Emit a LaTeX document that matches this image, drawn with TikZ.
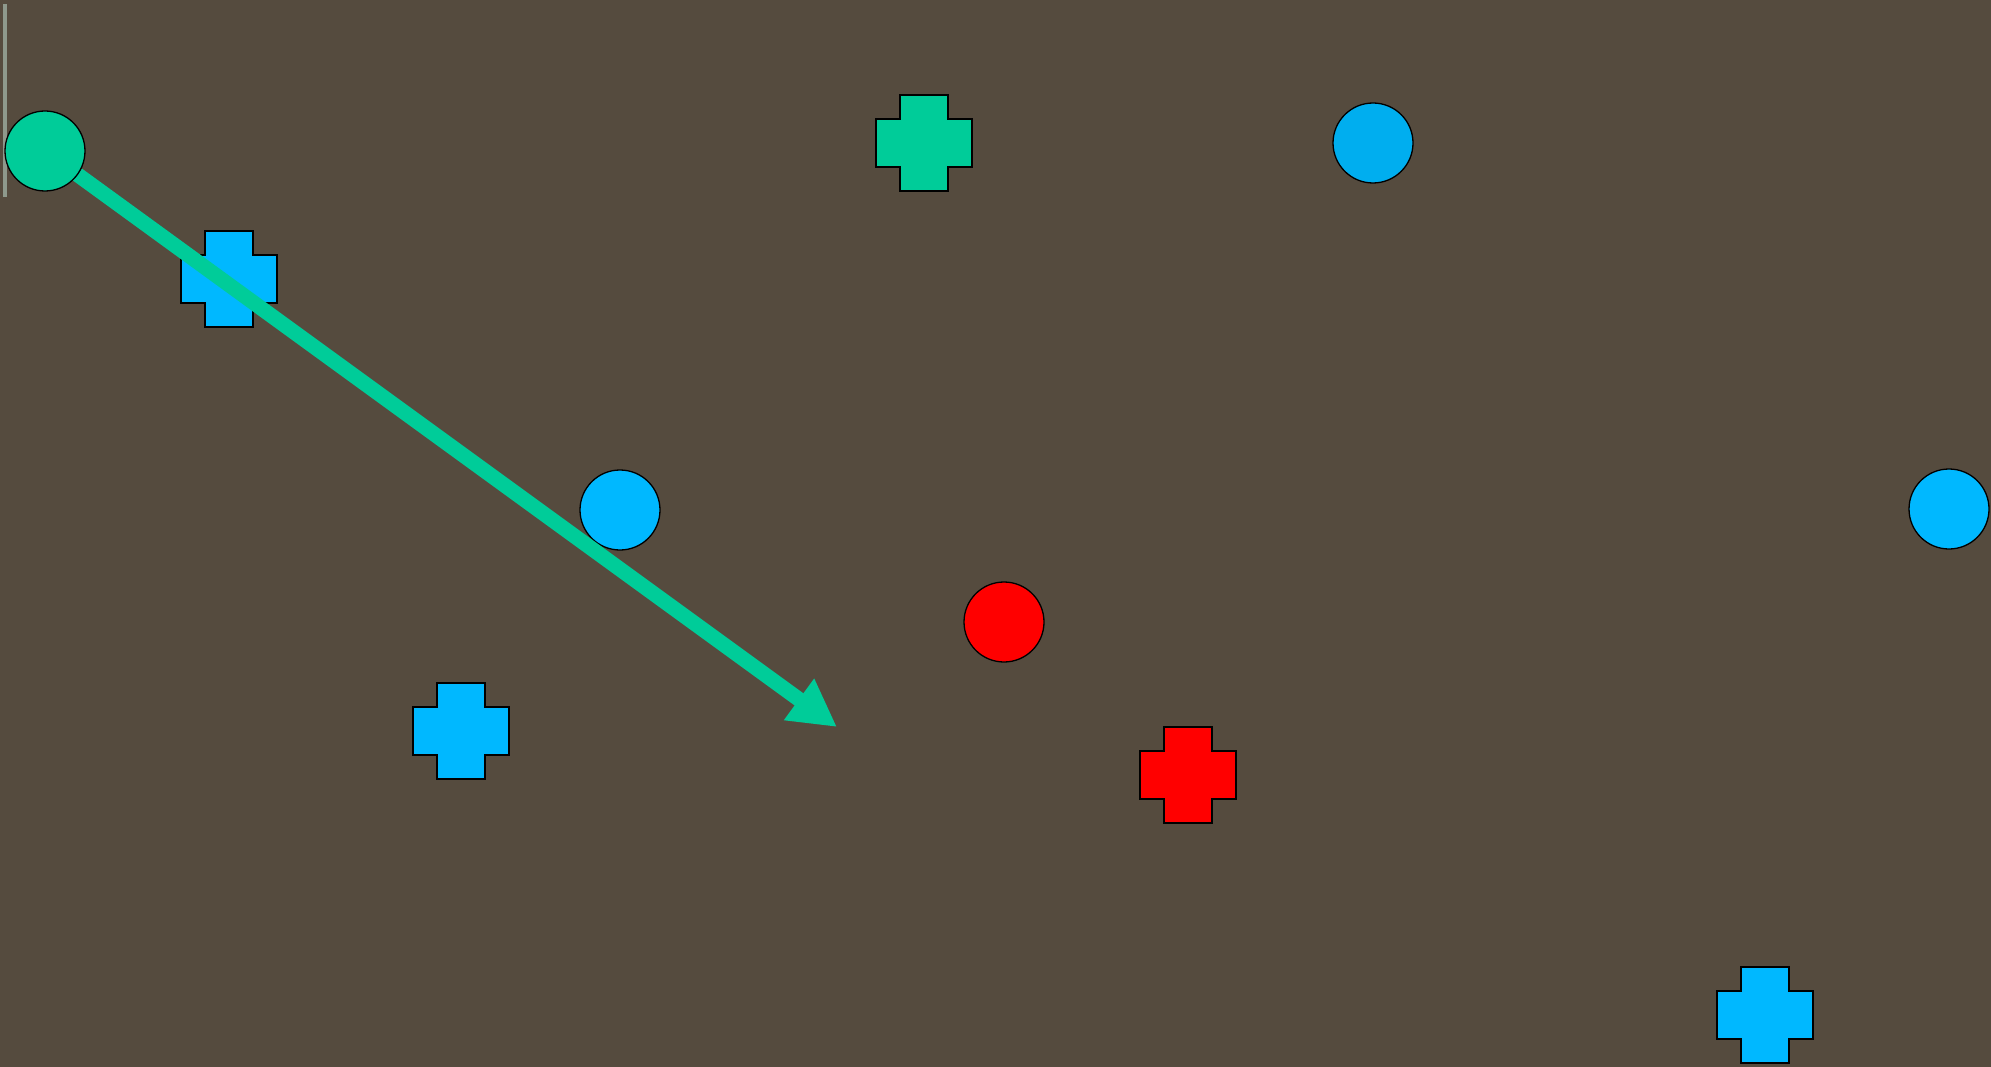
\documentclass[tikz,border=0pt]{standalone}
\usetikzlibrary{arrows.meta}
\definecolor{bgbrown}{HTML}{554B3E}
\definecolor{mint}{HTML}{00CC99}
\definecolor{skyblue}{HTML}{00B8FF}
\definecolor{skyblueb}{HTML}{00AEEF}
\definecolor{pureRed}{HTML}{FF0000}
\definecolor{rulegray}{HTML}{8E998C}
\begin{document}
\begin{tikzpicture}[
  x=1pt, y=-1pt,
  dot/.style={circle,draw=black,line width=1.3pt,minimum size=80pt,inner sep=0pt},
  plusmark/.pic={\draw[pic actions,line width=1.7pt]
    (-48,-24) -- (-24,-24) -- (-24,-48) -- (24,-48) -- (24,-24) -- (48,-24)
    -- (48,24) -- (24,24) -- (24,48) -- (-24,48) -- (-24,24) -- (-48,24) -- cycle;},
  arrowline/.style={draw=mint,line width=15pt,
    -{Triangle[length=47pt,width=48pt]}}]
\fill[bgbrown] (0,0) rectangle (1991,1067);
\useasboundingbox (0,0) rectangle (1991,1067);
\draw[rulegray,line width=3.5pt] (5,4) -- (5,197);
% crosses
\pic[fill=skyblue] (bx1) at (229,279) {plusmark};
\pic[fill=mint] (gx1) at (924,143) {plusmark};
\pic[fill=skyblue] (bx2) at (461,731) {plusmark};
\pic[fill=pureRed] (rx1) at (1188,775) {plusmark};
\pic[fill=skyblue] (bx3) at (1765,1015) {plusmark};
% circles
\node[dot,fill=skyblueb] (bd1) at (1373,143) {};
\node[dot,fill=skyblue] (bd2) at (620,510) {};
\node[dot,fill=skyblue] (bd3) at (1949,509) {};
\node[dot,fill=pureRed] (rd1) at (1004,622) {};
\coordinate (tip) at (837,727);
\draw[arrowline] (45,151) ++(36:40) -- (tip);
\node[dot,fill=mint] (gd1) at (45,151) {};
\end{tikzpicture}
\end{document}
